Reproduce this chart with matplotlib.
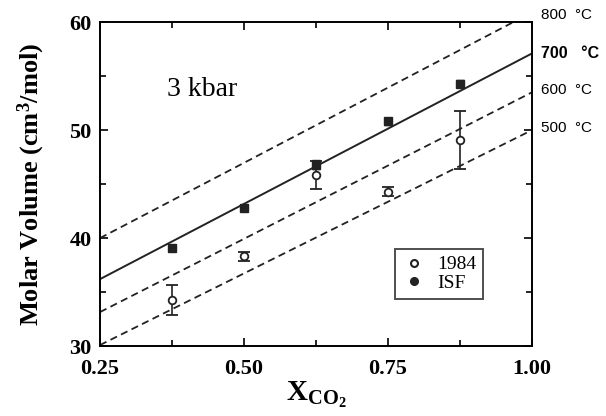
import matplotlib
matplotlib.use("Agg")
import matplotlib.pyplot as plt
from matplotlib.lines import Line2D

plt.rcParams["mathtext.fontset"] = "custom"
plt.rcParams["mathtext.rm"] = "Liberation Serif"
plt.rcParams["mathtext.it"] = "Liberation Serif:italic"
plt.rcParams["mathtext.bf"] = "Liberation Serif:bold"

# Data
x_1984 = [0.375, 0.5, 0.625, 0.75, 0.875]
y_1984 = [34.3, 38.3, 45.8, 44.3, 49.1]
err_1984 = [1.4, 0.4, 1.3, 0.4, 2.7]

x_isf = [0.375, 0.5, 0.625, 0.75, 0.875]
y_isf = [39.1, 42.8, 46.8, 50.8, 54.3]
err_isf = [0.3, 0.3, 0.4, 0.3, 0.3]

iso_labels = ["800  °C", "700   °C", "600  °C", "500  °C"]
iso_start = [40.0, 36.2, 33.15, 30.1]   # value at X=0.25
iso_end = [60.9, 57.1, 53.5, 50.0]      # value at X=1.00
iso_styles = ["--", "-", "--", "--"]
iso_label_y = [60.65, 57.1, 53.7, 50.2]

serif = ["Liberation Serif", "DejaVu Serif"]
sans = ["Liberation Sans", "DejaVu Sans"]

fig = plt.figure(figsize=(6.06, 4.16), dpi=100)
ax = fig.add_axes([0.165, 0.168, 0.713, 0.779])

for ys, ye, ls in zip(iso_start, iso_end, iso_styles):
    if ls == "--":
        ax.plot([0.25, 1.0], [ys, ye], color="#222222", lw=1.3, dashes=(4, 2.5))
    else:
        ax.plot([0.25, 1.0], [ys, ye], color="#222222", lw=1.4)

ax.errorbar(x_isf, y_isf, yerr=err_isf, fmt="s", ms=5.5, color="#222222",
            mfc="#222222", capsize=3, elinewidth=1.2, zorder=3)
ax.errorbar(x_1984, y_1984, yerr=err_1984, fmt="o", ms=5.5, color="#222222",
            mfc="white", mew=1.3, capsize=4, elinewidth=1.2, zorder=4)

ax.set_xlim(0.25, 1.0)
ax.set_ylim(30, 60)
ax.set_xticks([0.25, 0.5, 0.75, 1.0])
ax.set_xticklabels(["0.25", "0.50", "0.75", "1.00"])
ax.set_xticks([0.375, 0.625, 0.875], minor=True)
ax.set_yticks([30, 40, 50, 60])
ax.set_yticks([35, 45, 55], minor=True)
ax.tick_params(which="both", direction="in", top=True, right=True, width=1.2)
ax.tick_params(which="major", length=6)
ax.tick_params(axis="x", which="major", pad=9)
ax.tick_params(axis="y", which="major", pad=6)
ax.tick_params(which="minor", length=4)
for lab in ax.get_xticklabels() + ax.get_yticklabels():
    lab.set_family(serif)
    lab.set_fontweight("bold")
    lab.set_fontsize(16)
for s in ax.spines.values():
    s.set_linewidth(1.4)

ax.set_ylabel(r"Molar Volume (cm$^\mathbf{3}$/mol)", family=serif, fontweight="bold",
              fontsize=19, labelpad=16)
ax.set_xlabel(r"X$_{\mathbf{CO_2}}$", family=serif, fontweight="bold", fontsize=21, labelpad=1)

ax.text(0.427, 53.8, "3 kbar", family=serif, fontsize=20, ha="center", va="center")

for lab, yl in zip(iso_labels, iso_label_y):
    is700 = "700" in lab
    ax.text(1.015, yl, lab, family=sans, fontsize=11.5 if is700 else 11,
            fontweight="bold" if is700 else "normal", ha="left", va="center",
            clip_on=False)

handles = [
    Line2D([], [], ls="none", marker="o", ms=5, mfc="white", mec="#222222", mew=1.5),
    Line2D([], [], ls="none", marker="o", ms=5.5, mfc="#222222", mec="#222222"),
]
leg = ax.legend(handles, ["1984", "ISF"], loc="upper left", bbox_to_anchor=(0.683, 0.30),
                prop={"family": serif, "size": 14}, frameon=True, fancybox=False,
                edgecolor="#222222", handlelength=1.2, handletextpad=0.6,
                borderpad=0.35, labelspacing=0.05, borderaxespad=0)
leg.get_frame().set_linewidth(1.4)

fig.savefig("out.png", dpi=100)
